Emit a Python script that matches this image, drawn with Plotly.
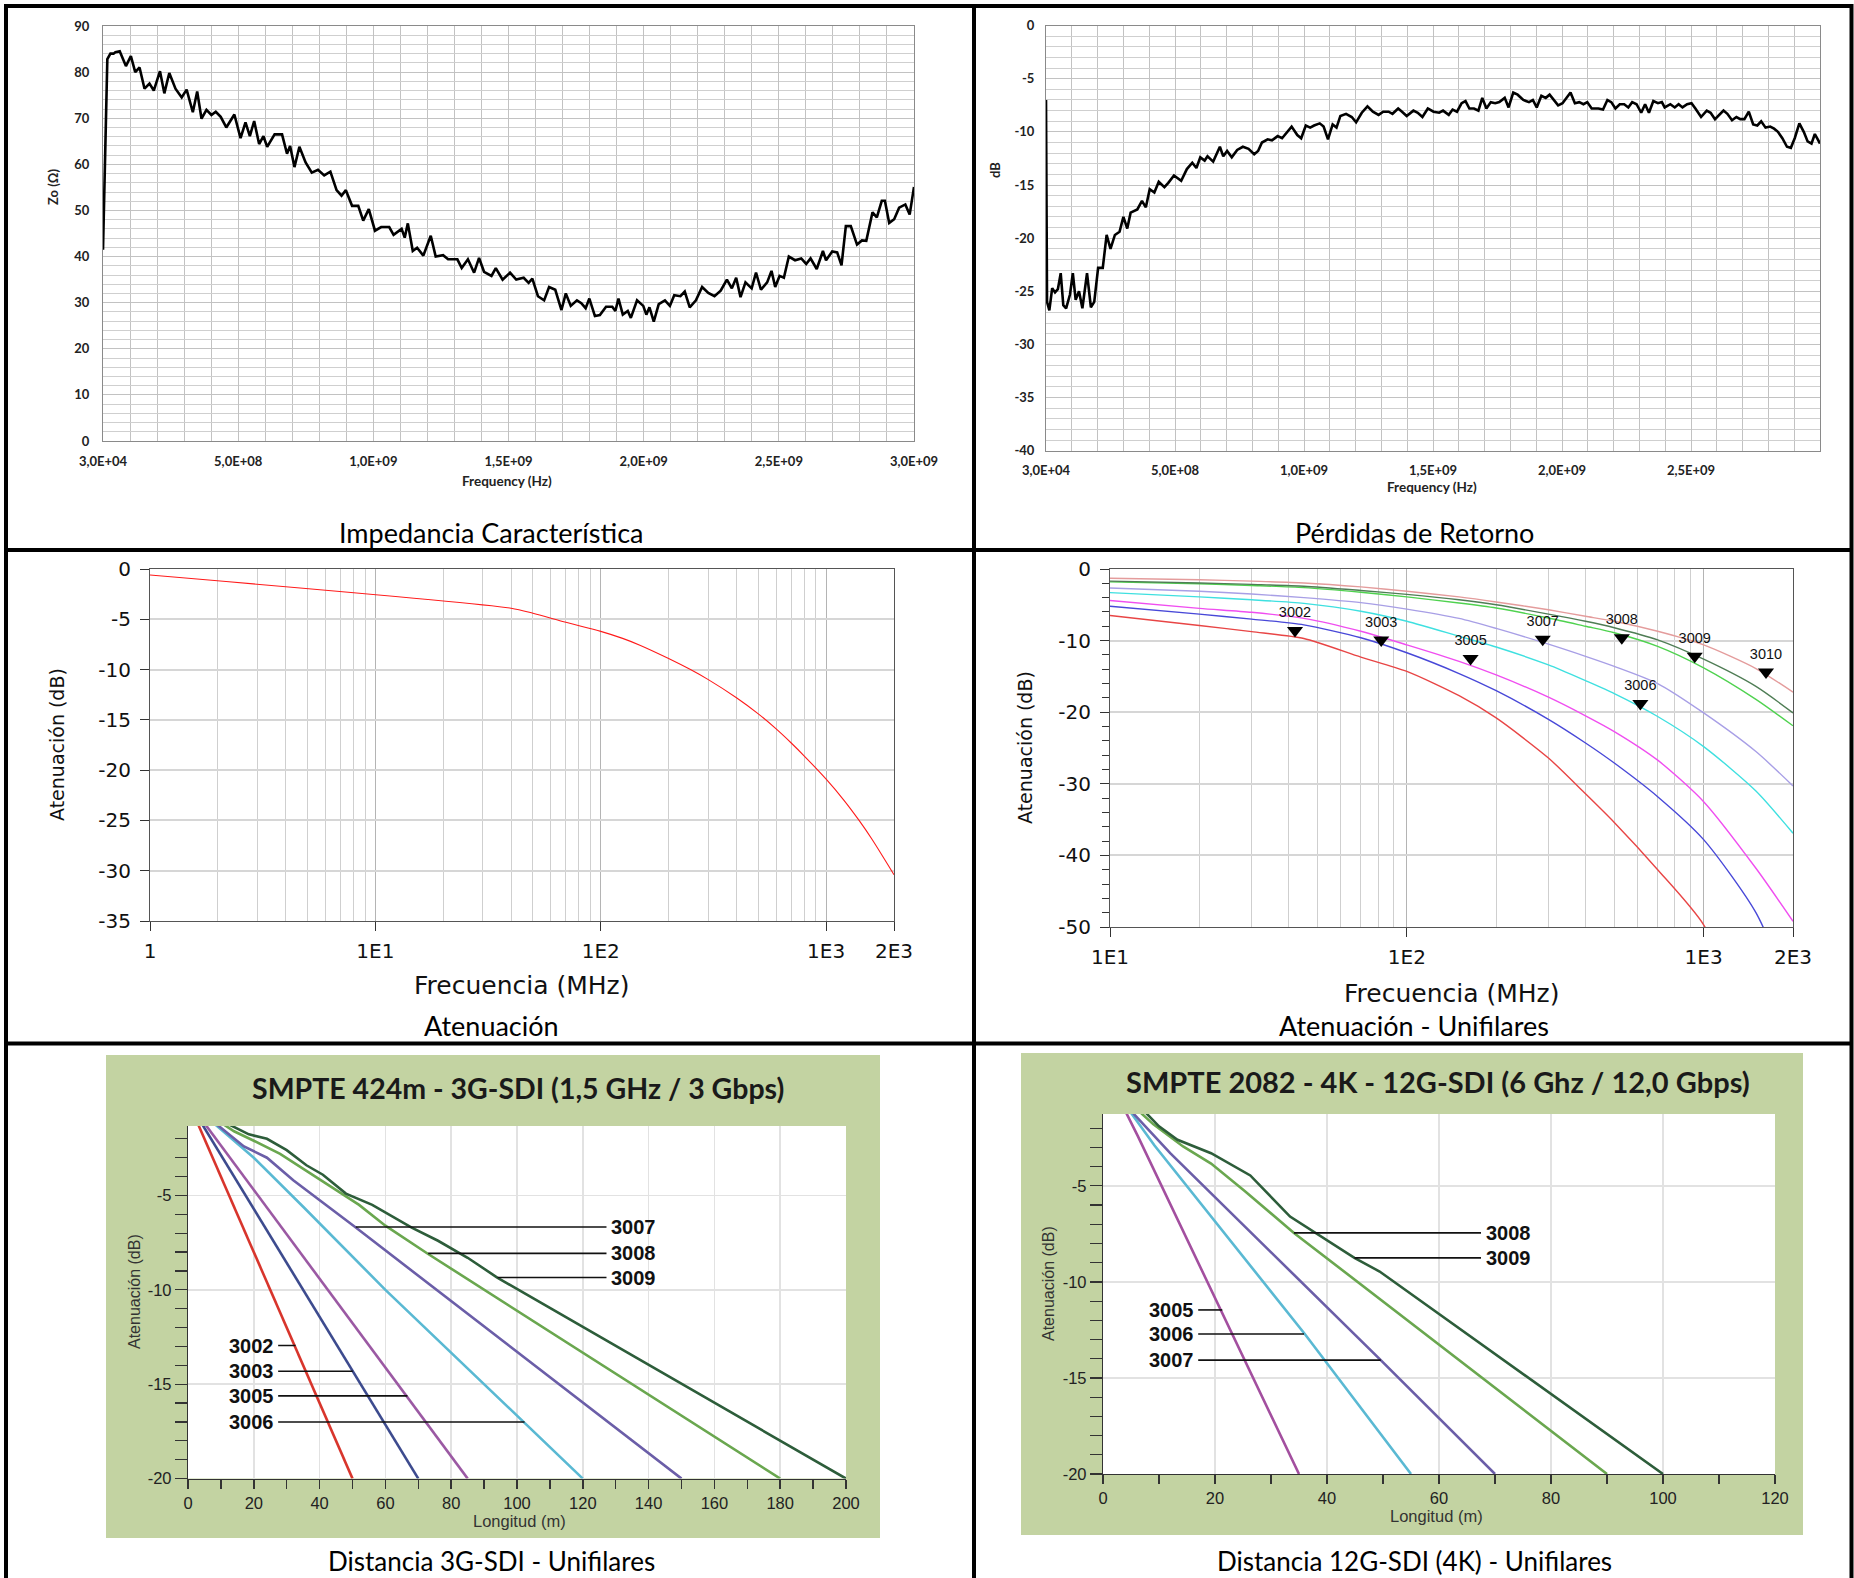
import math
import plotly.graph_objects as go

# ======================= DATA =======================
# Panel 1 - Impedancia Característica (frequency in MHz, Zo in ohm)
zo_freq_mhz = [
    0.03, 16, 27.5, 39, 45.8, 61.9, 84.8, 103.1, 119.2, 135.2,
    153.6, 171.9, 187.9, 210.8, 226.9, 245.2, 268.1, 291.1, 309.4, 332.3,
    348.4, 364.4, 382.7, 401.1, 417.1, 435.4, 456.1, 485.9, 508.8, 527.1,
    543.2, 559.2, 577.5, 593.6, 607.3, 634.8, 662.3, 680.7, 692.1, 708.2,
    726.5, 749.4, 772.3, 795.3, 818.2, 841.1, 864.0, 882.3, 898.4, 921.3,
    944.2, 962.6, 983.2, 1006.1, 1029.0, 1058.8, 1074.9, 1104.6, 1116.1, 1127.6,
    1145.9, 1161.9, 1184.9, 1212.4, 1230.7, 1258.2, 1276.5, 1310.9, 1326.9, 1349.9,
    1372.8, 1391.1, 1409.5, 1437.0, 1453.0, 1478.2, 1505.7, 1528.6, 1556.1, 1574.5,
    1588.2, 1608.9, 1631.8, 1650.1, 1673.0, 1695.9, 1712.0, 1730.3, 1753.2, 1769.3,
    1785.3, 1799.1, 1819.7, 1838.0, 1860.9, 1883.9, 1895.3, 1906.8, 1922.8, 1941.2,
    1952.6, 1975.5, 1998.5, 2009.9, 2021.4, 2037.4, 2055.8, 2078.7, 2097.0, 2113.1,
    2136.0, 2152.0, 2170.4, 2193.3, 2216.2, 2239.1, 2262.0, 2284.9, 2307.9, 2326.2,
    2342.2, 2358.3, 2376.6, 2399.5, 2415.6, 2433.9, 2456.8, 2472.9, 2486.6, 2502.7,
    2518.7, 2537.0, 2560.0, 2582.9, 2601.2, 2617.3, 2640.2, 2663.1, 2674.6, 2697.5,
    2715.8, 2731.9, 2747.9, 2766.2, 2789.2, 2807.5, 2823.5, 2846.5, 2862.5, 2880.8,
    2892.3, 2908.3, 2926.7, 2945.0, 2967.9, 2984.0, 3000.0,
]
zo_ohm = [
    41.5, 82.8, 84, 84, 84.3, 84.5, 81.3, 83.5, 80, 81,
    76.4, 77.5, 76, 80.2, 75.4, 79.8, 76.4, 74.5, 76.2, 71.3,
    75.8, 69.9, 71.8, 70.7, 71.4, 70.3, 68, 70.8, 65.7, 69.1,
    66.1, 69.4, 64.4, 66.1, 63.8, 66.5, 66.5, 62.3, 64, 59.4,
    63.8, 60.4, 58.2, 58.8, 57.6, 58.4, 54.4, 53.2, 54.4, 51,
    51, 47.8, 50.3, 45.6, 46.4, 46.4, 44.7, 46, 44.1, 47.2,
    41.2, 41.9, 40.2, 44.5, 40, 40.3, 39.4, 39.4, 37.5, 39.4,
    36.5, 39.7, 36.7, 35.8, 37.5, 35, 36.5, 35, 35.4, 34.3,
    35.2, 31.4, 30.5, 33.4, 32.8, 28.4, 32, 29.3, 30.5, 29.9,
    28.8, 30.9, 27.1, 27.3, 29.1, 29.1, 28.2, 30.9, 27.4, 28.2,
    26.7, 30.5, 29.3, 27.4, 29, 25.9, 29.7, 30.5, 29.3, 31.6,
    31.4, 32.4, 29, 30.5, 33.4, 32.1, 31.4, 32.6, 35, 33.1,
    35.4, 31.2, 34.4, 33.1, 36.5, 32.8, 34.4, 36.9, 33.4, 35.8,
    35.4, 40, 39.2, 39.6, 38.4, 39.6, 37.3, 41.2, 39.2, 41.1,
    40.9, 38.1, 46.6, 46.6, 42.6, 43.5, 43.4, 49.6, 48.5, 52.1,
    52.1, 47.3, 48.1, 50.6, 51.3, 49.1, 55.1,
]
zo_tickvals_hz = [3e4, 5e8, 1e9, 1.5e9, 2e9, 2.5e9, 3e9]
zo_ticktext = ["3,0E+04", "5,0E+08", "1,0E+09", "1,5E+09", "2,0E+09", "2,5E+09", "3,0E+09"]

# Panel 2 - Pérdidas de Retorno (frequency in MHz, dB)
rl_freq_mhz = [
    0.03, 4, 13, 24, 35, 46, 57, 67, 78, 93,
    104, 115, 128, 141, 159, 174, 187, 202, 220, 235,
    250, 267, 285, 300, 315, 328, 354, 372, 387, 402,
    420, 437, 459, 474, 496, 524, 546, 567, 583, 598,
    615, 626, 648, 674, 687, 702, 720, 741, 763, 785,
    807, 822, 837, 859, 876, 898, 915, 937, 952, 974,
    989, 1007, 1024, 1039, 1061, 1076, 1093, 1111, 1126, 1141,
    1163, 1185, 1202, 1224, 1246, 1267, 1289, 1307, 1328, 1343,
    1365, 1380, 1398, 1424, 1441, 1459, 1480, 1502, 1524, 1539,
    1561, 1576, 1593, 1611, 1626, 1641, 1659, 1676, 1691, 1707,
    1724, 1741, 1757, 1778, 1793, 1811, 1828, 1850, 1872, 1887,
    1902, 1920, 1937, 1952, 1967, 1985, 2002, 2017, 2033, 2050,
    2067, 2083, 2098, 2115, 2141, 2159, 2176, 2191, 2207, 2224,
    2241, 2257, 2272, 2289, 2307, 2322, 2337, 2354, 2372, 2387,
    2398, 2420, 2437, 2452, 2467, 2485, 2502, 2517, 2539, 2561,
    2576, 2593, 2611, 2626, 2641, 2659, 2676, 2691, 2707, 2724,
    2741, 2757, 2772, 2789, 2807, 2822, 2837, 2854, 2872, 2887,
    2902, 2920, 2937, 2952, 2967, 2980, 3000,
]
rl_db = [
    -7.0, -26.0, -26.8, -24.7, -25.1, -24.8, -23.3, -26.3, -26.6, -25.3,
    -23.3, -25.8, -25.0, -26.6, -23.3, -26.5, -26.0, -22.8, -22.8, -19.7,
    -21.0, -19.7, -19.4, -18.0, -19.1, -17.6, -17.3, -16.5, -17.1, -15.4,
    -15.7, -14.7, -15.2, -14.8, -14.1, -14.6, -13.5, -12.9, -13.4, -12.4,
    -12.7, -12.3, -12.8, -11.4, -12.3, -11.8, -12.4, -11.7, -11.4, -11.6,
    -12.1, -11.8, -11.0, -10.7, -10.8, -10.4, -10.6, -10.0, -9.5, -10.3,
    -10.6, -9.4, -9.6, -9.4, -9.2, -9.5, -10.7, -9.3, -9.6, -8.5,
    -8.3, -8.6, -9.1, -8.2, -7.6, -8.1, -8.4, -8.1, -8.1, -8.3,
    -7.8, -8.1, -8.5, -8.0, -8.2, -8.6, -7.8, -8.1, -8.2, -8.0,
    -8.4, -7.9, -8.1, -7.3, -7.1, -7.8, -7.8, -8.0, -6.8, -7.8,
    -7.2, -7.3, -7.2, -6.8, -7.7, -6.3, -6.5, -7.0, -7.2, -7.0,
    -7.7, -6.6, -6.8, -6.5, -7.0, -7.5, -7.3, -6.8, -6.3, -7.3,
    -7.2, -7.4, -7.2, -7.8, -7.8, -7.9, -7.0, -7.2, -7.8, -7.4,
    -7.4, -7.7, -7.2, -7.4, -8.2, -7.4, -8.2, -7.1, -7.3, -7.2,
    -7.7, -7.4, -7.7, -7.4, -7.7, -7.4, -7.3, -7.8, -8.6, -8.0,
    -8.2, -8.8, -8.4, -8.0, -8.3, -8.9, -8.6, -8.8, -8.8, -8.1,
    -9.3, -9.4, -9.0, -9.6, -9.5, -9.7, -10.0, -10.6, -11.4, -11.5,
    -10.6, -9.2, -10.0, -10.9, -11.1, -10.2, -11.1,
]
rl_tickvals_hz = [3e4, 5e8, 1e9, 1.5e9, 2e9, 2.5e9]
rl_ticktext = ["3,0E+04", "5,0E+08", "1,0E+09", "1,5E+09", "2,0E+09", "2,5E+09"]
rl_ytickvals = [0, -5, -10, -15, -20, -25, -30, -35, -40]
rl_yticktext = ["0", "-5", "-10", "-15", "-20", "-25", "-30", "-35", "-40"]

# Panel 3 - Atenuación (MHz, dB)
att_freq_mhz = [1, 40, 50, 70, 100, 125, 150, 200, 250, 300, 400, 500, 600, 700, 800, 1000, 1200, 1400, 1600, 2000]
att_db = [-0.6, -3.9, -4.4, -5.3, -6.2, -6.9, -7.6, -8.9, -10.0, -11.0, -12.8, -14.4, -15.9, -17.3, -18.6, -20.9, -23.0, -25.0, -26.9, -30.4]
att_tickvals = [1, 10, 100, 1000, 2000]
att_ticktext = ["1", "1E1", "1E2", "1E3", "2E3"]
att_ytickvals = [0, -5, -10, -15, -20, -25, -30, -35]
att_yticktext = ["0", "-5", "-10", "-15", "-20", "-25", "-30", "-35"]

# Panel 4 - Atenuación - Unifilares (MHz, dB)
uni_freq_mhz = [10, 20, 30, 45, 70, 100, 150, 200, 300, 400, 500, 700, 1000, 1500, 2000]
uni_3002 = [-6.5, -7.9, -8.75, -9.7, -12.3, -14.3, -17.7, -20.8, -26.4, -31.4, -35.4, -42.0, -49.7, -66.0, None]
uni_3003 = [-5.2, -6.3, -7.0, -7.8, -9.6, -11.7, -14.6, -17.0, -21.0, -24.3, -27.1, -31.8, -37.8, -48.0, -60.0]
uni_3005 = [-4.4, -5.5, -6.05, -6.9, -8.7, -10.6, -12.9, -14.8, -17.9, -20.5, -22.7, -26.7, -32.5, -41.8, -49.2]
uni_3006 = [-3.3, -3.9, -4.3, -4.8, -5.9, -7.3, -9.4, -10.9, -13.4, -15.6, -17.4, -20.6, -24.8, -31.0, -36.9]
uni_3007 = [-2.65, -3.1, -3.5, -4.0, -4.7, -5.6, -6.9, -8.3, -10.5, -12.2, -13.6, -16.0, -20.1, -25.5, -30.3]
uni_3008 = [-1.8, -2.05, -2.3, -2.6, -3.25, -3.9, -4.75, -5.45, -6.85, -8.0, -8.9, -10.8, -13.8, -18.2, -21.9]
uni_3009 = [-1.7, -1.95, -2.15, -2.4, -3.0, -3.55, -4.3, -5.0, -6.3, -7.3, -8.2, -9.9, -12.6, -16.4, -20.1]
uni_3010 = [-1.3, -1.5, -1.7, -1.95, -2.5, -3.1, -3.9, -4.6, -5.7, -6.6, -7.3, -8.7, -10.6, -13.9, -17.2]
uni_marker_cable = ["3002", "3003", "3005", "3007", "3008", "3006", "3009", "3010"]
uni_marker_freq_mhz = [42, 82, 164, 287, 530, 612, 933, 1622]
uni_marker_db = [-8.6, -9.9, -12.5, -9.8, -9.6, -18.8, -12.2, -14.4]
uni_tickvals = [10, 100, 1000, 2000]
uni_ticktext = ["1E1", "1E2", "1E3", "2E3"]
uni_ytickvals = [0, -10, -20, -30, -40, -50]
uni_yticktext = ["0", "-10", "-20", "-30", "-40", "-50"]

# Panel 5 - SMPTE 424m 3G-SDI (length m, attenuation dB)
g3_3002_m = [0, 50]
g3_3002_db = [0, -20]
g3_3003_m = [0, 70]
g3_3003_db = [0, -20]
g3_3005_m = [0, 85]
g3_3005_db = [0, -20]
g3_3006_m = [0, 9, 20, 35, 60, 120]
g3_3006_db = [0, -1.35, -3.0, -5.6, -10.0, -20]
g3_3007_m = [0, 10, 17, 24, 32, 51, 150]
g3_3007_db = [0, -1.4, -2.4, -3.0, -4.2, -6.7, -20]
g3_3008_m = [0, 14, 20, 28, 36, 44, 52, 60, 73, 180]
g3_3008_db = [0, -1.6, -2.1, -2.8, -3.7, -4.6, -5.5, -6.6, -8.1, -20]
g3_3009_m = [0, 12, 18.5, 24, 30, 36, 41, 48, 56, 62, 68, 76, 85, 94, 200]
g3_3009_db = [0, -1.2, -1.76, -2.0, -2.6, -3.4, -3.9, -4.9, -5.5, -6.1, -6.7, -7.4, -8.3, -9.35, -20]

# Panel 6 - SMPTE 2082 12G-SDI (length m, attenuation dB)
g12_3005_m = [3.8, 6.2, 35]
g12_3005_db = [-1.0, -2.4, -20]
g12_3006_m = [4.5, 9.2, 36, 55]
g12_3006_db = [-1.0, -2.9, -12.7, -20]
g12_3007_m = [5, 12, 49.6, 70]
g12_3007_db = [-1.1, -3.3, -14.07, -20]
g12_3008_m = [6, 9, 14.3, 19.3, 25.3, 34.1, 90]
g12_3008_db = [-1.0, -1.8, -2.95, -3.84, -5.27, -7.45, -20]
g12_3009_m = [7, 10, 13.3, 19.3, 26.3, 33.4, 44.9, 49.4, 100]
g12_3009_db = [-1.0, -1.9, -2.6, -3.3, -4.46, -6.6, -8.75, -9.46, -20]

sdi_ytickvals = [-20, -15, -10, -5]
sdi_yticktext = ["-20", "-15", "-10", "-5"]

# ======================= STYLE / LAYOUT =======================
W, H = 1854, 1578


def fx(p):
    return p / W


def fy(p):
    return 1 - p / H


EXCEL_FONT = "Lato"
CAP_FONT = "Lato"
ARIAL = "Liberation Sans, Arial"
WIDE = "DejaVu Sans"

fig = go.Figure()

# ---- Panel 1
fig.add_trace(go.Scatter(x=[f * 1e6 for f in zo_freq_mhz], y=zo_ohm, mode="lines",
                         line=dict(color="#000000", width=2.6), xaxis="x", yaxis="y", hoverinfo="skip"))
# ---- Panel 2
fig.add_trace(go.Scatter(x=[f * 1e6 for f in rl_freq_mhz], y=rl_db, mode="lines",
                         line=dict(color="#000000", width=2.6), xaxis="x2", yaxis="y2", hoverinfo="skip"))
# ---- Panel 3
fig.add_trace(go.Scatter(x=att_freq_mhz, y=att_db, mode="lines", line=dict(color="#ff1a1a", width=1.1),
                         line_shape="spline", line_smoothing=0.7, xaxis="x3", yaxis="y3", hoverinfo="skip"))
# ---- Panel 4
uni_series = [("3002", uni_3002, "#e84545"), ("3003", uni_3003, "#4848d8"), ("3005", uni_3005, "#f04ef0"),
              ("3006", uni_3006, "#3fe0e0"), ("3007", uni_3007, "#a89fe6"), ("3008", uni_3008, "#4fd24f"),
              ("3009", uni_3009, "#4f7d55"), ("3010", uni_3010, "#e49c9c")]
for name, vals, col in uni_series:
    fig.add_trace(go.Scatter(x=uni_freq_mhz, y=vals, mode="lines", line=dict(color=col, width=1.4),
                             line_shape="spline", line_smoothing=0.7, xaxis="x4", yaxis="y4",
                             hoverinfo="skip", name=name))
fig.add_trace(go.Scatter(x=uni_marker_freq_mhz, y=uni_marker_db, mode="markers+text", text=uni_marker_cable,
                         textposition="top center",
                         marker=dict(symbol="triangle-down", size=14, color="#000000"),
                         textfont=dict(family=ARIAL, size=14.5, color="#111111"),
                         xaxis="x4", yaxis="y4", hoverinfo="skip"))
# ---- Panel 5
g3_series = [(g3_3002_m, g3_3002_db, "#d8352c"), (g3_3003_m, g3_3003_db, "#3d4b8e"),
             (g3_3005_m, g3_3005_db, "#9b59a3"), (g3_3006_m, g3_3006_db, "#5ab9d3"),
             (g3_3007_m, g3_3007_db, "#6b5ea8"), (g3_3008_m, g3_3008_db, "#6aa74f"),
             (g3_3009_m, g3_3009_db, "#2d5d3a")]
for xs, ys, col in g3_series:
    fig.add_trace(go.Scatter(x=xs, y=ys, mode="lines", line=dict(color=col, width=2.6),
                             xaxis="x5", yaxis="y5", hoverinfo="skip"))
# ---- Panel 6
g12_series = [(g12_3005_m, g12_3005_db, "#a34f9f"), (g12_3006_m, g12_3006_db, "#5ab9d3"),
              (g12_3007_m, g12_3007_db, "#6b5ea8"), (g12_3008_m, g12_3008_db, "#6aa74f"),
              (g12_3009_m, g12_3009_db, "#2d5d3a")]
for xs, ys, col in g12_series:
    fig.add_trace(go.Scatter(x=xs, y=ys, mode="lines", line=dict(color=col, width=2.6),
                             xaxis="x6", yaxis="y6", hoverinfo="skip"))

GRID_X = "#c2c2c2"
excel_tick = dict(family=EXCEL_FONT, size=13, color="#222222", weight="bold")
wide_tick = dict(family=WIDE, size=20, color="#111111")
arial_tick = dict(family=ARIAL, size=16.5, color="#222222")

layout = dict(
    template="none",
    width=W, height=H, autosize=False, showlegend=False,
    margin=dict(l=0, r=0, t=0, b=0, pad=0, autoexpand=False),
    paper_bgcolor="#ffffff", plot_bgcolor="#ffffff",
    # Panel 1
    xaxis=dict(domain=[fx(103), fx(914)], range=[0, 3e9], anchor="y", tickmode="array", automargin=False,
               tickvals=zo_tickvals_hz, ticktext=zo_ticktext, tickfont=excel_tick,
               ticks="outside", ticklen=8, tickcolor="rgba(0,0,0,0)",
               showgrid=True, gridcolor=GRID_X, gridwidth=1, zeroline=False,
               minor=dict(dtick=1e8, tick0=0, showgrid=True, gridcolor=GRID_X, gridwidth=1),
               showline=True, mirror=True, linecolor="#8a8a8a", linewidth=1),
    yaxis=dict(domain=[fy(441), fy(26)], range=[0, 90], anchor="x", dtick=10, tickfont=excel_tick,
               automargin=False, ticks="outside", ticklen=10, tickcolor="rgba(0,0,0,0)",
               showgrid=True, gridcolor=GRID_X, zeroline=False,
               minor=dict(dtick=2, showgrid=True, gridcolor="#cfcfcf"),
               showline=True, mirror=True, linecolor="#8a8a8a"),
    # Panel 2
    xaxis2=dict(domain=[fx(1046), fx(1820)], range=[0, 3e9], anchor="y2", tickmode="array", automargin=False,
                tickvals=rl_tickvals_hz, ticktext=rl_ticktext, tickfont=excel_tick,
                ticks="outside", ticklen=8, tickcolor="rgba(0,0,0,0)",
                showgrid=True, gridcolor=GRID_X, zeroline=False,
                minor=dict(dtick=1e8, tick0=0, showgrid=True, gridcolor=GRID_X),
                showline=True, mirror=True, linecolor="#8a8a8a"),
    yaxis2=dict(domain=[fy(450.7), fy(25.6)], range=[-40, 0], anchor="x2", tickmode="array", automargin=False,
                tickvals=rl_ytickvals, ticktext=rl_yticktext, tickfont=excel_tick,
                ticks="outside", ticklen=8, tickcolor="rgba(0,0,0,0)",
                showgrid=True, gridcolor=GRID_X, zeroline=False,
                minor=dict(dtick=1, showgrid=True, gridcolor="#cfcfcf"),
                showline=True, mirror=True, linecolor="#8a8a8a"),
    # Panel 3
    xaxis3=dict(type="log", domain=[fx(150), fx(894)], range=[0, math.log10(2000)], anchor="y3",
                automargin=False, tickmode="array", tickvals=att_tickvals, ticktext=att_ticktext,
                tickfont=wide_tick, ticks="outside", ticklen=9, tickcolor="#333333", ticklabelstandoff=3,
                showgrid=True, gridcolor="#b4b4b4", zeroline=False,
                minor=dict(tickmode="array", tickvals=[2, 3, 4, 5, 6, 7, 8, 9, 20, 30, 40, 50, 60, 70, 80, 90,
                                                       200, 300, 400, 500, 600, 700, 800, 900],
                           showgrid=True, gridcolor="#cfcfcf", ticks=""),
                showline=True, mirror=True, linecolor="#555555"),
    yaxis3=dict(domain=[fy(921), fy(569)], range=[-35, 0], anchor="x3", tickmode="array", automargin=False,
                tickvals=att_ytickvals, ticktext=att_yticktext,
                tickfont=wide_tick, ticks="outside", ticklen=9, tickcolor="#333333", ticklabelstandoff=5,
                showgrid=True, gridcolor="#d6d6d6", gridwidth=2, zeroline=False,
                showline=True, mirror=True, linecolor="#555555"),
    # Panel 4
    xaxis4=dict(type="log", domain=[fx(1110), fx(1793)], range=[1, math.log10(2000)], anchor="y4",
                automargin=False, tickmode="array", tickvals=uni_tickvals, ticktext=uni_ticktext,
                tickfont=wide_tick, ticks="outside", ticklen=9, tickcolor="#333333", ticklabelstandoff=3,
                showgrid=True, gridcolor="#b4b4b4", zeroline=False,
                minor=dict(tickmode="array", tickvals=[20, 30, 40, 50, 60, 70, 80, 90,
                                                       200, 300, 400, 500, 600, 700, 800, 900],
                           showgrid=True, gridcolor="#cfcfcf", ticks=""),
                showline=True, mirror=True, linecolor="#555555"),
    yaxis4=dict(domain=[fy(927), fy(569)], range=[-50, 0], anchor="x4", tickmode="array", automargin=False,
                tickvals=uni_ytickvals, ticktext=uni_yticktext,
                tickfont=wide_tick, ticks="outside", ticklen=9, tickcolor="#333333", ticklabelstandoff=5,
                showgrid=True, gridcolor="#d6d6d6", gridwidth=2, zeroline=False,
                minor=dict(dtick=2, ticks="outside", ticklen=7, tickcolor="#333333", showgrid=False),
                showline=True, mirror=True, linecolor="#555555"),
    # Panel 5
    xaxis5=dict(domain=[fx(188), fx(846)], range=[0, 200], anchor="y5", dtick=20, automargin=False,
                tickfont=arial_tick, ticks="outside", ticklen=9, tickwidth=1.5, tickcolor="#333333",
                showgrid=True, gridcolor="#e2e2e2", gridwidth=1.5, zeroline=False,
                minor=dict(dtick=10, ticks="outside", ticklen=9, tickwidth=1.5, tickcolor="#333333"),
                showline=True, linecolor="#333333", linewidth=1.2),
    yaxis5=dict(domain=[fy(1478.6), fy(1126)], range=[-20, -1.32], anchor="x5", tickmode="array",
                automargin=False, tickvals=sdi_ytickvals, ticktext=sdi_yticktext,
                tickfont=arial_tick, ticks="outside", ticklen=12, tickwidth=1.2, tickcolor="#333333",
                showgrid=True, gridcolor="#e2e2e2", gridwidth=1.5, zeroline=False,
                minor=dict(dtick=1, ticks="outside", ticklen=12, tickwidth=1.2, tickcolor="#333333"),
                showline=True, linecolor="#333333", linewidth=1.2),
    # Panel 6
    xaxis6=dict(domain=[fx(1103), fx(1775)], range=[0, 120], anchor="y6", dtick=20, automargin=False,
                tickfont=arial_tick, ticks="outside", ticklen=9, tickwidth=1.5, tickcolor="#333333",
                showgrid=True, gridcolor="#e2e2e2", gridwidth=1.5, zeroline=False,
                minor=dict(dtick=10, ticks="outside", ticklen=9, tickwidth=1.5, tickcolor="#333333"),
                showline=True, linecolor="#333333", linewidth=1.2),
    yaxis6=dict(domain=[fy(1474), fy(1114)], range=[-20, -1.26], anchor="x6", tickmode="array",
                automargin=False, tickvals=sdi_ytickvals, ticktext=sdi_yticktext,
                tickfont=arial_tick, ticks="outside", ticklen=12, tickwidth=1.2, tickcolor="#333333",
                showgrid=True, gridcolor="#e2e2e2", gridwidth=1.5, zeroline=False,
                minor=dict(dtick=1, ticks="outside", ticklen=12, tickwidth=1.2, tickcolor="#333333"),
                showline=True, linecolor="#333333", linewidth=1.2),
)
fig.update_layout(**layout)

# ---- shapes: green boxes, white plot areas, panel borders, callout lines
shapes = []
GREEN = "#c3d3a2"
for (x0, y0, x1, y1) in [(106, 1055, 880, 1538), (1021, 1053, 1803, 1535)]:
    shapes.append(dict(type="rect", xref="paper", yref="paper", x0=fx(x0), x1=fx(x1), y0=fy(y1), y1=fy(y0),
                       fillcolor=GREEN, line=dict(width=0), layer="below"))
for (x0, y0, x1, y1) in [(188, 1126, 846, 1478.6), (1103, 1114, 1775, 1474)]:
    shapes.append(dict(type="rect", xref="paper", yref="paper", x0=fx(x0), x1=fx(x1), y0=fy(y1), y1=fy(y0),
                       fillcolor="#ffffff", line=dict(width=0), layer="below"))
BORDER = dict(color="#000000", width=4)
for (x0, y0, x1, y1) in [(4, 6, 1852, 6), (6, 4, 6, 1578), (1851.5, 4, 1851.5, 1578), (974, 6, 974, 1578),
                         (6, 550, 1852, 550), (6, 1043.5, 1852, 1043.5)]:
    shapes.append(dict(type="line", xref="paper", yref="paper", x0=fx(x0), x1=fx(x1), y0=fy(y0), y1=fy(y1),
                       line=BORDER, layer="above"))

CALL = dict(color="#111111", width=1.6)
g3_callouts = [(27.4, 32.7, -12.95), (27.4, 50.1, -14.31), (27.4, 66.7, -15.62), (27.4, 102.3, -17.0),
               (51.0, 127.2, -6.67), (73.0, 127.2, -8.07), (94.1, 127.2, -9.35)]
for a, b, yv in g3_callouts:
    shapes.append(dict(type="line", xref="x5", yref="y5", x0=a, x1=b, y0=yv, y1=yv, line=CALL))
g12_callouts = [(17.0, 21.3, -11.46), (17.0, 35.9, -12.71), (17.0, 49.6, -14.07),
                (34.1, 67.5, -7.45), (44.9, 67.5, -8.75)]
for a, b, yv in g12_callouts:
    shapes.append(dict(type="line", xref="x6", yref="y6", x0=a, x1=b, y0=yv, y1=yv, line=CALL))
fig.update_layout(shapes=shapes)

# ---- annotations
ann = []


def text(t, x, y, size, family, color="#000000", angle=0, bold=False, xanchor="center", xref="paper",
         yref="paper", pixel=True):
    ann.append(dict(text=t, x=fx(x) if pixel else x, y=fy(y) if pixel else y, xref=xref, yref=yref,
                    showarrow=False, textangle=angle, xanchor=xanchor, yanchor="middle",
                    font=dict(family=family, size=size, color=color, weight="bold" if bold else "normal")))


# captions
text("Impedancia Característica", 491, 532, 27, CAP_FONT)
text("Pérdidas de Retorno", 1414, 532, 27, CAP_FONT)
text("Atenuación", 491, 1025, 27, CAP_FONT)
text("Atenuación - Unifilares", 1414, 1025, 27, CAP_FONT)
text("Distancia 3G-SDI - Unifilares", 491, 1561, 26, CAP_FONT)
text("Distancia 12G-SDI (4K) - Unifilares", 1414, 1561, 26, CAP_FONT)
# axis titles
text("Zo (Ω)", 53, 187, 13, EXCEL_FONT, "#222222", -90, True)
text("Frequency (Hz)", 507, 481, 13.5, EXCEL_FONT, "#222222", 0, True)
text("dB", 995, 170, 13, EXCEL_FONT, "#222222", -90, True)
text("Frequency (Hz)", 1432, 487, 13.5, EXCEL_FONT, "#222222", 0, True)
text("Atenuación (dB)", 57, 745, 19, WIDE, "#111111", -90)
text("Frecuencia (MHz)", 521, 985, 25, WIDE, "#111111")
text("Atenuación (dB)", 1025, 748, 19, WIDE, "#111111", -90)
text("Frecuencia (MHz)", 1451, 993, 25, WIDE, "#111111")
text("Atenuación (dB)", 134, 1292, 16, ARIAL, "#333333", -90)
text("Longitud (m)", 519, 1521, 16.5, ARIAL, "#333333")
text("Atenuación (dB)", 1048, 1284, 16, ARIAL, "#333333", -90)
text("Longitud (m)", 1436, 1516, 16.5, ARIAL, "#333333")
# SMPTE titles
text("SMPTE 424m - 3G-SDI (1,5 GHz / 3 Gbps)", 518, 1088, 28.5, CAP_FONT, "#1a1a1a", 0, True)
text("SMPTE 2082 - 4K - 12G-SDI (6 Ghz / 12,0 Gbps)", 1438, 1081, 29, CAP_FONT, "#1a1a1a", 0, True)
# callout labels (data coordinates)
for lbl, xv, yv, anc in [("3002", 26.6, -12.95, "right"), ("3003", 26.6, -14.31, "right"),
                         ("3005", 26.6, -15.62, "right"), ("3006", 26.6, -17.0, "right"),
                         ("3007", 128.0, -6.67, "left"), ("3008", 128.0, -8.07, "left"),
                         ("3009", 128.0, -9.35, "left")]:
    text(lbl, xv, yv, 20, ARIAL, "#111111", 0, True, anc, "x5", "y5", pixel=False)
for lbl, xv, yv, anc in [("3005", 16.6, -11.46, "right"), ("3006", 16.6, -12.71, "right"),
                         ("3007", 16.6, -14.07, "right"), ("3008", 68.0, -7.45, "left"),
                         ("3009", 68.0, -8.75, "left")]:
    text(lbl, xv, yv, 20, ARIAL, "#111111", 0, True, anc, "x6", "y6", pixel=False)
fig.update_layout(annotations=ann)

# the page body has a default 8px margin; remove it so the figure fills the window exactly
fig.write_html("out.html", config={"displayModeBar": False, "staticPlot": True},
               post_script="document.body.style.margin='0';document.body.style.overflow='hidden';")
